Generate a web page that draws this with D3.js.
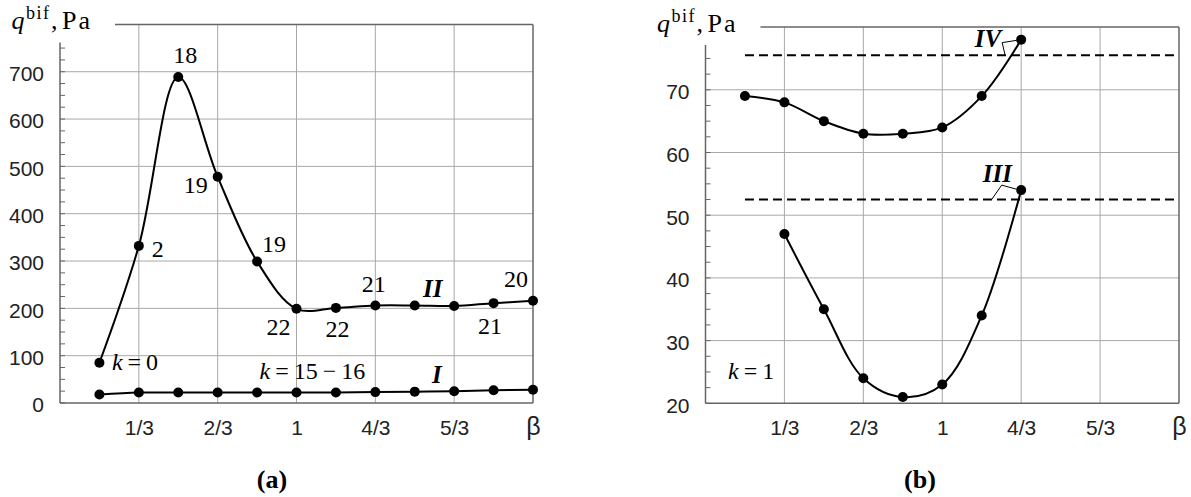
<!DOCTYPE html>
<html>
<head>
<meta charset="utf-8">
<script src="https://cdn.jsdelivr.net/npm/d3@7"></script>
<style>
body { margin: 0; background: #fff; }
svg { display: block; }
.num { font-family: "Liberation Serif", "Times New Roman", serif; font-size: 24px; fill: #000; }
.roman { font-family: "Liberation Serif", serif; font-size: 25px; font-weight: bold; font-style: italic; fill: #000; }
.tick text { font-family: "Liberation Sans", Arial, sans-serif; font-size: 21px; fill: #222; }
.cap { font-family: "Liberation Serif", serif; font-size: 26px; font-weight: bold; fill: #000; }
</style>
</head>
<body>
<svg id="chart" width="1191" height="497"></svg>
<script>
// shared beta axis
const betaTicks = [0, 1/3, 2/3, 1, 4/3, 5/3, 2];
const betaTickLabels = ["", "1/3", "2/3", "1", "4/3", "5/3", "β"];

// panel (a)
const betaA = [1/6, 1/3, 1/2, 2/3, 5/6, 1, 7/6, 4/3, 3/2, 5/3, 11/6, 2];
const qII = [85, 332, 689, 478, 299, 199, 201, 206, 206, 205, 211, 216];
const qI = [18, 22, 22, 22, 22, 22, 22, 23, 24, 25, 27, 28];
const numII = ["", "2", "18", "19", "19", "22", "22", "21", "", "", "21", "20"];
const yTicksA = [0, 100, 200, 300, 400, 500, 600, 700];

// panel (b)
const betaIV = [1/6, 1/3, 1/2, 2/3, 5/6, 1, 7/6, 4/3];
const qIV = [69, 68, 65, 63, 63, 64, 69, 78];
const betaIII = [1/3, 1/2, 2/3, 5/6, 1, 7/6, 4/3];
const qIII = [47, 35, 24, 21, 23, 34, 54];
const limitIV = 75.5;
const limitIII = 52.5;
const yTicksB = [20, 30, 40, 50, 60, 70];

const svg = d3.select('#chart');
const smooth = d3.curveCatmullRom.alpha(0.5);

function panel(o) {
  const x = d3.scaleLinear().domain([0, 2]).range([o.left, o.right]);
  const y = d3.scaleLinear().domain(o.yDomain).range([o.bottom, o.top]);
  const g = svg.append('g');

  // grid
  g.selectAll('line.vgrid')
    .data(betaTicks.slice(1, -1))
    .enter().append('line')
    .attr('x1', d => x(d)).attr('x2', d => x(d))
    .attr('y1', o.top).attr('y2', o.bottom)
    .attr('stroke', '#a8a8a8').attr('stroke-width', 1);
  g.selectAll('line.hgrid')
    .data(o.yTicks.slice(1))
    .enter().append('line')
    .attr('x1', o.left).attr('x2', o.right)
    .attr('y1', d => y(d)).attr('y2', d => y(d))
    .attr('stroke', '#a8a8a8').attr('stroke-width', 1);

  // minor ticks inside the y axis
  g.selectAll('line.minor')
    .data(d3.range(o.yDomain[0], o.minorMax + 1e-9, o.minorStep))
    .enter().append('line')
    .attr('x1', o.left).attr('x2', o.left + 5)
    .attr('y1', d => y(d)).attr('y2', d => y(d))
    .attr('stroke', '#666').attr('stroke-width', 1);

  // frame
  const frame = [
    [o.left, o.top + 18, o.left, o.bottom],
    [o.left, o.bottom, o.right, o.bottom],
    [o.right, o.top, o.right, o.bottom],
    [o.left + 55, o.top, o.right, o.top]
  ];
  g.selectAll('line.frame')
    .data(frame)
    .enter().append('line')
    .attr('x1', d => d[0]).attr('y1', d => d[1])
    .attr('x2', d => d[2]).attr('y2', d => d[3])
    .attr('stroke', '#666').attr('stroke-width', 1.5);

  // axes (labels only)
  const xa = g.append('g')
    .attr('transform', 'translate(0,' + o.bottom + ')')
    .call(d3.axisBottom(x).tickValues(betaTicks)
      .tickFormat((d, i) => betaTickLabels[i]).tickSize(0).tickPadding(17));
  xa.select('.domain').remove();
  xa.selectAll('.tick text').filter((d, i) => i == betaTicks.length - 1)
    .style('font-size', '25px').attr('dy', '0.6em');

  const ya = g.append('g')
    .attr('transform', 'translate(' + o.left + ',0)')
    .call(d3.axisLeft(y).tickValues(o.yTicks).tickSize(0).tickPadding(16));
  ya.select('.domain').remove();
  ya.selectAll('.tick text').attr('dy', '0.42em');

  // axis title q^bif, Pa
  const tx = o.left - 48.5, ty = o.top + 5;
  const t = g.append('text').attr('class', 'num')
    .attr('y', ty).style('font-size', '26px');
  t.append('tspan').attr('x', tx).style('font-style', 'italic').text('q');
  t.append('tspan').attr('x', tx + 14.5).attr('y', ty - 10).style('font-size', '18px')
    .style('letter-spacing', '1.5px').text('bif');
  t.append('tspan').attr('x', tx + 39.5).attr('y', ty).text(',');
  t.append('tspan').attr('x', tx + 50.5).style('letter-spacing', '2px').text('Pa');

  // caption
  g.append('text').attr('class', 'cap')
    .attr('x', o.capX).attr('y', 488)
    .attr('text-anchor', 'middle')
    .text(o.cap);

  return { g, x, y };
}

function curve(p, xs, ys) {
  const pts = xs.map((d, i) => [p.x(d), p.y(ys[i])]);
  p.g.append('path')
    .attr('d', d3.line().curve(smooth)(pts))
    .attr('fill', 'none').attr('stroke', '#000').attr('stroke-width', 2);
  p.g.selectAll(null)
    .data(pts)
    .enter().append('circle')
    .attr('cx', d => d[0]).attr('cy', d => d[1])
    .attr('r', 5).attr('fill', '#000');
  return pts;
}

function label(g, px, py, txt, dx, dy, anchor, cls) {
  return g.append('text')
    .attr('class', cls || 'num')
    .attr('x', px + dx).attr('y', py + dy)
    .attr('dominant-baseline', 'central')
    .attr('text-anchor', anchor || 'middle')
    .text(txt);
}

function kLabel(g, px, py, parts) {
  const t = g.append('text').attr('class', 'num')
    .attr('x', px).attr('y', py).attr('dominant-baseline', 'central');
  t.append('tspan').style('font-style', 'italic').text('k');
  parts.forEach(s => t.append('tspan').attr('dx', 5).text(s));
}

// ---------- panel (a)
const pa = panel({ left: 60, right: 533, top: 24.4, bottom: 403, yDomain: [0, 800],
  yTicks: yTicksA, minorStep: 25, minorMax: 750, capX: 272, cap: '(a)' });
const ptsII = curve(pa, betaA, qII);
const ptsI = curve(pa, betaA, qI);

const offII = [null, [13, 3, 'start'], [7, -22], [-10, 8, 'end'], [5, -17, 'start'],
  [-6, 18, 'end'], [1.5, 21], [-1.5, -21.5], null, null, [-3.5, 23], [-17, -22]];
numII.forEach((s, i) => {
  if (!s) return;
  const o = offII[i];
  label(pa.g, ptsII[i][0], ptsII[i][1], s, o[0], o[1], o[2]);
});
label(pa.g, ptsII[8][0], ptsII[8][1], 'II', 18, -17.5, 'middle', 'roman');
label(pa.g, ptsI[8][0], ptsI[8][1], 'I', 22, -17.5, 'middle', 'roman');
kLabel(pa.g, ptsII[0][0] + 12.5, ptsII[0][1] - 1, ['=', '0']);
kLabel(pa.g, ptsI[5][0] - 37, ptsI[5][1] - 22, ['=', '15', '−', '16']);

// ---------- panel (b)
const pb = panel({ left: 705.5, right: 1179, top: 27.1, bottom: 403.3, yDomain: [20, 80],
  yTicks: yTicksB, minorStep: 2.5, minorMax: 75, capX: 920, cap: '(b)' });

[limitIV, limitIII].forEach(v => {
  pb.g.append('line')
    .attr('x1', pb.x(1/6)).attr('x2', pb.x(2))
    .attr('y1', pb.y(v)).attr('y2', pb.y(v))
    .attr('stroke', '#000').attr('stroke-width', 2)
    .attr('stroke-dasharray', '9,5');
});

const ptsIV = curve(pb, betaIV, qIV);
const ptsIII = curve(pb, betaIII, qIII);

const pIV = ptsIV[ptsIV.length - 1];
label(pb.g, pIV[0], pIV[1], 'IV', -20, -1, 'end', 'roman');
pb.g.append('polyline')
  .attr('points', [[pIV[0] - 4.5, pIV[1] + 0.7], [pIV[0] - 19, pIV[1] + 3], [pIV[0] - 16, pb.y(limitIV)]].join(' '))
  .attr('fill', 'none').attr('stroke', '#000').attr('stroke-width', 1);

const pIII = ptsIII[ptsIII.length - 1];
label(pb.g, pIII[0], pIII[1], 'III', -23.7, -16.6, 'middle', 'roman');
pb.g.append('polyline')
  .attr('points', [[pIII[0] - 5, pIII[1] - 1], [pIII[0] - 19.5, pIII[1] - 5], [pIII[0] - 29.5, pb.y(limitIII)]].join(' '))
  .attr('fill', 'none').attr('stroke', '#000').attr('stroke-width', 1);

kLabel(pb.g, pb.x(0) + 22.5, pb.y(25) - 0.5, ['=', '1']);
</script>
</body>
</html>
